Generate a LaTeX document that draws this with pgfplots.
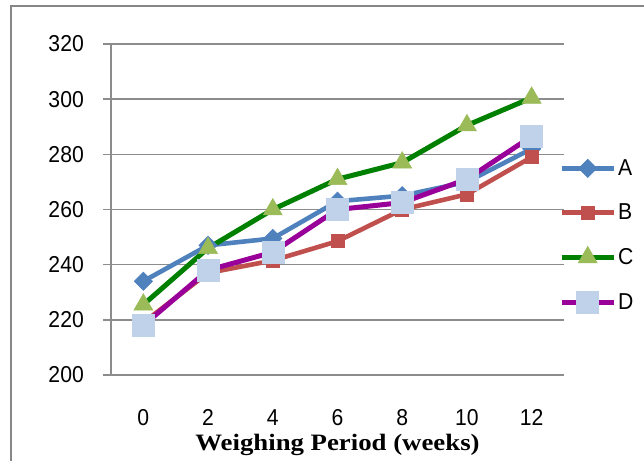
\documentclass[border=0pt]{standalone}
\usepackage{fontspec}
\setmainfont{Liberation Sans}[FakeStretch=0.92]
\newfontfamily\labelfont{Liberation Serif}[FakeStretch=1.14]
\usepackage{pgfplots}
\pgfplotsset{compat=1.18}
\definecolor{cA}{HTML}{4F81BD}
\definecolor{cB}{HTML}{C0504D}
\definecolor{cC}{HTML}{008000}
\definecolor{cCm}{HTML}{9BBB59}
\definecolor{cD}{HTML}{990099}
\definecolor{cDm}{HTML}{C0D2EA}
\definecolor{gridc}{HTML}{8C8C8C}
\definecolor{framec}{HTML}{878787}
\begin{document}
\begin{tikzpicture}
\useasboundingbox (0bp,0bp) rectangle (644bp,461bp);
\clip (0bp,0bp) rectangle (644bp,461bp);
\draw[color=framec, line width=2bp] (11bp,-20bp) -- (11bp,455bp) -- (700bp,455bp);
\begin{axis}[
  at={(111bp,86bp)}, anchor=south west,
  scale only axis, width=453bp, height=331bp,
  xmin=-0.5, xmax=6.5, ymin=200, ymax=320,
  xtick={0,...,6}, xticklabels={0,2,4,6,8,10,12},
  ytick={200,220,...,320},
  axis x line*=bottom, axis y line*=left,
  axis line style={-, draw=gridc, line width=1.6bp},
  ymajorgrids, grid style={draw=gridc, line width=1.6bp},
  tick align=outside, major tick length=8bp,
  ytick style={draw=gridc, line width=1.6bp},
  xtick style={draw=none},
  /pgf/number format/assume math mode=true,
  tick label style={font=\fontsize{23bp}{27bp}\selectfont},
  xticklabel style={anchor=base, yshift=-43bp},
  yticklabel style={anchor=east, inner sep=0pt, xshift=-19bp},
  xlabel={Weighing Period (weeks)},
  xlabel style={font=\labelfont\bfseries\fontsize{23.5bp}{27bp}\selectfont, at={(axis description cs:0.5,-0.2296)}, anchor=base},
  legend style={at={(0.989,0.657)}, anchor=north west, draw=none, fill=none, inner sep=0pt,
    font=\fontsize{23bp}{27bp}\selectfont, row sep=23bp},
  legend cell align=left,
  legend image code/.code={\draw[mark repeat=2,mark phase=2,#1] plot coordinates {(0bp,0bp) (26bp,0bp) (52bp,0bp)};},
]
\addplot[cA, line width=4.6bp, mark=square*, mark size=6.5bp, mark options={rotate=45, fill=cA, draw=cA, line width=0.5bp}]
  coordinates {(0,234) (1,247) (2,249.5) (3,263) (4,265) (5,270) (6,282)};
\addlegendentry{A}
\addplot[cB, line width=4.6bp, mark=square*, mark size=6.5bp, mark options={fill=cB, draw=cB, line width=0.5bp}]
  coordinates {(0,219) (1,237) (2,241.5) (3,248.5) (4,260) (5,265.5) (6,279)};
\addlegendentry{B}
\addplot[cC, line width=5bp, mark=triangle*, mark size=11bp, mark options={fill=cCm, draw=cCm, line width=0.5bp}]
  coordinates {(0,225.5) (1,246) (2,260) (3,271) (4,277) (5,290.5) (6,300.5)};
\addlegendentry{C}
\addplot[cD, line width=5bp, mark=square*, mark size=11bp, mark options={fill=cDm, draw=cDm, line width=0.5bp}]
  coordinates {(0,218) (1,238) (2,244.5) (3,260) (4,262.5) (5,271) (6,286.5)};
\addlegendentry{D}
\end{axis}
\end{tikzpicture}
\end{document}
